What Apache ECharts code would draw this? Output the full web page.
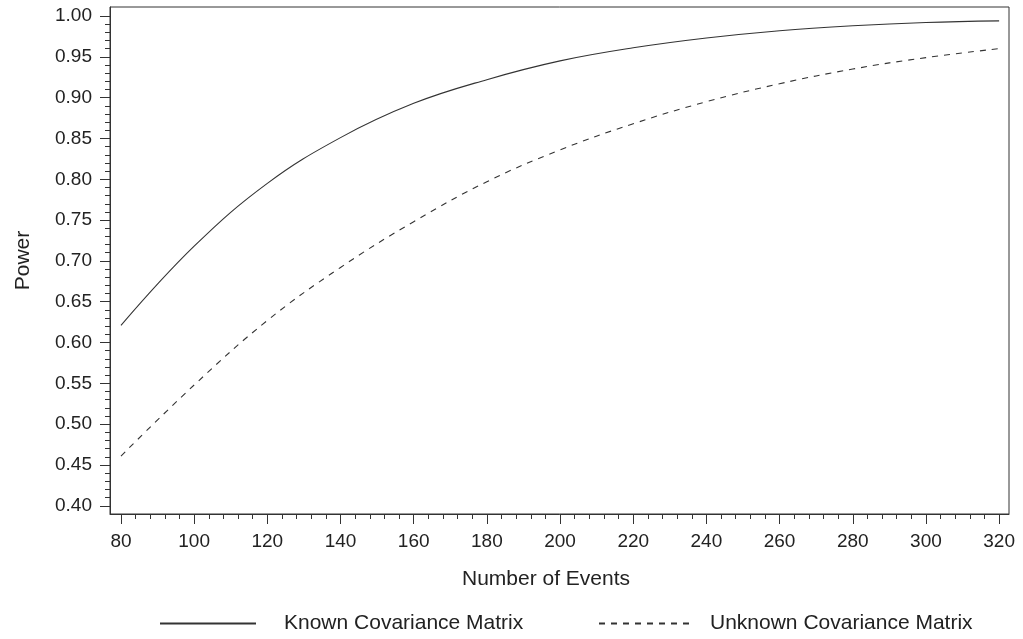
<!DOCTYPE html>
<html>
<head>
<meta charset="utf-8">
<script src="https://cdn.jsdelivr.net/npm/echarts@6/dist/echarts.min.js"></script>
<style>html,body{margin:0;padding:0;background:#fff}#c{width:1023px;height:639px}</style>
</head>
<body>
<div id="c"></div>
<script>
var events = [80, 100, 120, 140, 160, 180, 200, 220, 240, 260, 280, 300, 320];
var knownPower = [0.621, 0.718, 0.795, 0.851, 0.893, 0.922, 0.945, 0.961, 0.973, 0.982, 0.988, 0.992, 0.994];
var unknownPower = [0.461, 0.548, 0.627, 0.692, 0.748, 0.797, 0.836, 0.868, 0.895, 0.917, 0.935, 0.949, 0.960];
var xTicks = [80, 100, 120, 140, 160, 180, 200, 220, 240, 260, 280, 300, 320];
var yTicks = ['0.40','0.45','0.50','0.55','0.60','0.65','0.70','0.75','0.80','0.85','0.90','0.95','1.00'];
var seriesNames = ['Known Covariance Matrix', 'Unknown Covariance Matrix'];
var xTitle = 'Number of Events';
var yTitle = 'Power';

var yTickVals = yTicks.map(Number);
var xMinor = [], yMinor = [];
for (var i = 0; i < xTicks.length - 1; i++) {
  for (var k = 1; k < 5; k++) xMinor.push(xTicks[i] + (xTicks[i+1] - xTicks[i]) * k / 5);
}
for (var j = 0; j < yTickVals.length - 1; j++) {
  for (var m = 1; m < 5; m++) yMinor.push(+(yTickVals[j] + (yTickVals[j+1] - yTickVals[j]) * m / 5).toFixed(4));
}
function pairs(xs, ys) { return xs.map(function (x, i) { return [x, ys[i]]; }); }

var FONT = 'Liberation Sans, Arial, Helvetica, sans-serif';
var TXT = '#222';
var LINE = '#333';
var XMIN = 77, XMAX = 322.7, YMIN = 0.39, YMAX = 1.011;

var chart = echarts.init(document.getElementById('c'), null, {renderer: 'canvas'});
chart.setOption({
  animation: false,
  backgroundColor: '#fff',
  textStyle: {fontFamily: FONT},
  grid: {left: 110, right: 14, top: 7, bottom: 125, show: true, borderColor: LINE, borderWidth: 1, containLabel: false},
  legend: [{
    data: [seriesNames[0]], left: 159, top: 613, itemWidth: 96, itemHeight: 14, padding: 0,
    itemStyle: {opacity: 0},
    textStyle: {fontSize: 21, color: TXT, fontFamily: FONT, padding: [0, 0, 0, 23]}, selectedMode: false
  }, {
    data: [seriesNames[1]], left: 598, top: 613, itemWidth: 96, itemHeight: 14, padding: 0,
    itemStyle: {opacity: 0},
    textStyle: {fontSize: 21, color: TXT, fontFamily: FONT, padding: [0, 0, 0, 10]}, selectedMode: false
  }],
  xAxis: [{
    type: 'value', min: XMIN, max: XMAX, position: 'bottom',
    name: xTitle, nameLocation: 'middle', nameGap: 55,
    nameTextStyle: {fontSize: 21, color: TXT, fontFamily: FONT, padding: [0, 27, 0, 0]},
    axisLine: {show: true, lineStyle: {color: LINE, width: 1}},
    axisTick: {show: true, customValues: xTicks, length: 10, inside: false, lineStyle: {color: LINE}},
    axisLabel: {customValues: xTicks, fontSize: 19, color: TXT, margin: 18, fontFamily: FONT},
    splitLine: {show: false}
  }, {
    type: 'value', min: XMIN, max: XMAX, position: 'bottom',
    axisLine: {show: false},
    axisTick: {show: true, customValues: xMinor, length: 5, lineStyle: {color: LINE}},
    axisLabel: {show: false},
    splitLine: {show: false}
  }],
  yAxis: [{
    type: 'value', min: YMIN, max: YMAX, position: 'left',
    name: yTitle, nameLocation: 'middle', nameGap: 76,
    nameTextStyle: {fontSize: 21, color: TXT, fontFamily: FONT},
    axisLine: {show: true, lineStyle: {color: LINE, width: 1}},
    axisTick: {show: true, customValues: yTickVals, length: 10, lineStyle: {color: LINE}},
    axisLabel: {customValues: yTickVals, fontSize: 19, color: TXT, margin: 18, fontFamily: FONT,
      formatter: function (v) { return Number(v).toFixed(2); }},
    splitLine: {show: false}
  }, {
    type: 'value', min: YMIN, max: YMAX, position: 'left',
    axisLine: {show: false},
    axisTick: {show: true, customValues: yMinor, length: 5, lineStyle: {color: LINE}},
    axisLabel: {show: false},
    splitLine: {show: false}
  }],
  series: [{
    name: seriesNames[0], type: 'line', xAxisIndex: 0, yAxisIndex: 0,
    data: pairs(events, knownPower), smooth: 0.4, symbol: 'none',
    lineStyle: {color: LINE, width: 1.1, type: 'solid'}, itemStyle: {color: LINE}
  }, {
    name: seriesNames[1], type: 'line', xAxisIndex: 0, yAxisIndex: 0,
    data: pairs(events, unknownPower), smooth: 0.4, symbol: 'none',
    lineStyle: {color: LINE, width: 1.1, type: [6, 6]}, itemStyle: {color: LINE}
  }]
});
</script>
</body>
</html>
